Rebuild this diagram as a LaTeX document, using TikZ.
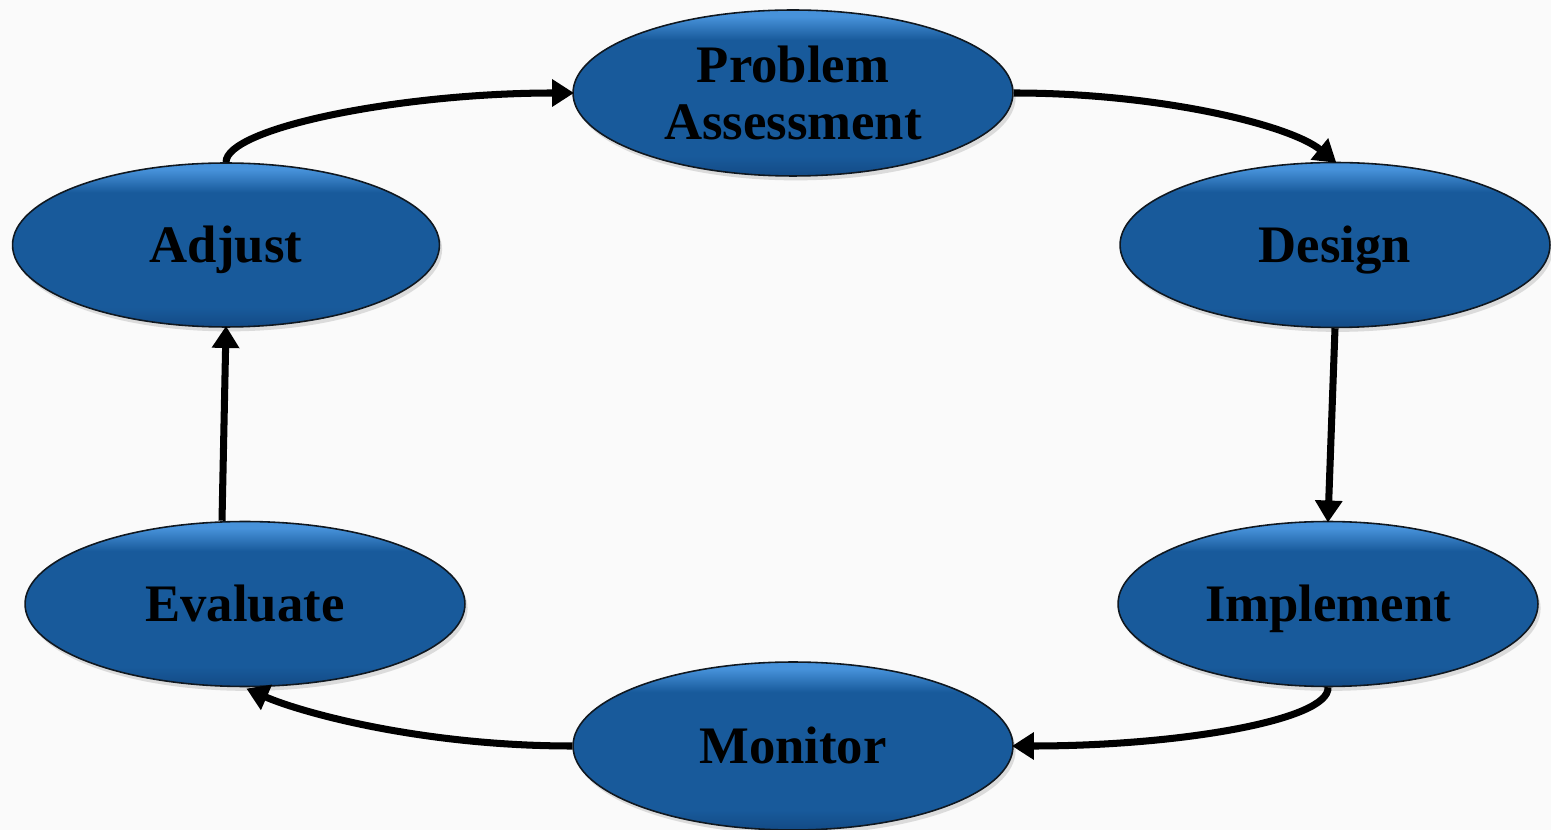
\documentclass[tikz,border=0pt]{standalone}
\usepackage{fontspec}
\setmainfont{Liberation Serif}
\usetikzlibrary{shapes.geometric,arrows.meta,shadows,calc}

\definecolor{bgcol}{HTML}{FAFAFA}
\definecolor{ovaldark}{HTML}{134A85}
\definecolor{ovalmid}{HTML}{185A9B}
\definecolor{ovallight}{HTML}{4792DA}
\definecolor{ovaledge}{HTML}{101820}

% vertical fill: darker base, flat body, bright rim at the top
\pgfdeclareverticalshading{ovalfill}{100bp}{%
  color(0bp)=(ovaldark); color(25bp)=(ovaldark); color(31bp)=(ovalmid);
  color(66bp)=(ovalmid); color(73bp)=(ovallight); color(75bp)=(ovallight);
  color(100bp)=(ovallight)}

\tikzset{
  stage/.style={ellipse, draw=ovaledge, line width=0.9pt, shading=ovalfill,
    inner sep=0pt, text=black, align=center,
    font=\fontsize{30}{32}\selectfont\bfseries,
    drop shadow={opacity=0.25, shadow xshift=1.5pt, shadow yshift=-2.5pt}},
  oneline/.style={text height=21pt, text depth=1pt},
  flow/.style={line width=4pt, draw=black,
    -{Triangle[length=12.5pt,width=15pt]}, shorten >=-1pt}
}

\begin{document}
\begin{tikzpicture}[x=0.02cm, y=-0.02cm]
  \fill[bgcol] (0,0) rectangle (1551,830);
  \useasboundingbox (0,0) rectangle (1551,830);

  \node[stage, minimum width=8.8cm, minimum height=3.32cm] (pa) at (793,93) {Problem\\Assessment};
  \node[stage, oneline, minimum width=8.6cm, minimum height=3.3cm] (de) at (1335,245) {Design};
  \node[stage, oneline, minimum width=8.4cm, minimum height=3.3cm] (im) at (1328,604) {Implement};
  \node[stage, oneline, minimum width=8.8cm, minimum height=3.36cm] (mo) at (793,746) {Monitor};
  \node[stage, oneline, minimum width=8.8cm, minimum height=3.3cm] (ev) at (245,604) {Evaluate};
  \node[stage, oneline, minimum width=8.54cm, minimum height=3.28cm] (ad) at (226,245) {Adjust};

  \draw[flow] (ad.north) .. controls (226,128) and (400,93) .. (pa.west);
  \draw[flow] (pa.east) .. controls (1160,93) and (1290,125) .. (de.north);
  \draw[flow] (de.south) -- (im.north);
  \draw[flow] (im.south) .. controls (1330,720) and (1180,746) .. (mo.east);
  \draw[flow] (mo.west) .. controls (420,746) and (300,712) .. ($(ev.south)+(3,2)$);
  \draw[flow] ($(ev.north)+(-23,0)$) -- (ad.south);
\end{tikzpicture}
\end{document}
